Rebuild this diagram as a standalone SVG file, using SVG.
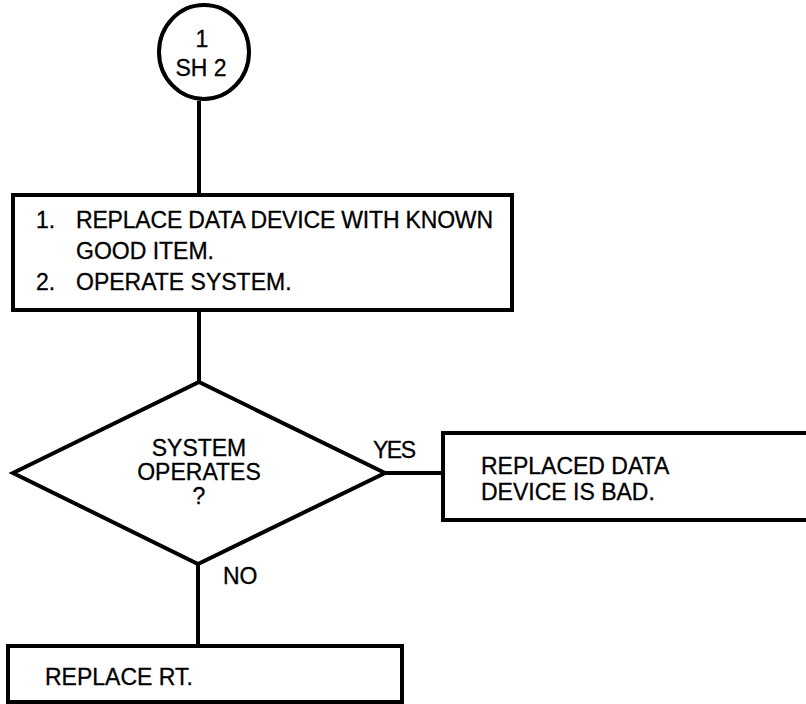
<svg xmlns="http://www.w3.org/2000/svg" width="806" height="704" viewBox="0 0 806 704">
<style>
.s{fill:none;stroke:#000;stroke-width:4;stroke-linejoin:miter}
.t{font-family:"Liberation Sans",Arial,sans-serif;font-size:23px;fill:#000;stroke:#000;stroke-width:0.3}
.m{text-anchor:middle}
</style>
<rect width="806" height="704" fill="#fff"/>
<g id="connectors">
<line class="s" x1="199" y1="101" x2="199" y2="195"/>
<line class="s" x1="199" y1="310" x2="199" y2="382"/>
<line class="s" x1="385" y1="473" x2="443" y2="473"/>
<line class="s" x1="198" y1="564" x2="198" y2="646"/>
<text class="t" x="373" y="458" textLength="43">YES</text>
<text class="t" x="223" y="584">NO</text>
</g>
<g id="start">
<ellipse class="s" cx="204" cy="52" rx="45" ry="47"/>
<text class="t m" x="202" y="47">1</text>
<text class="t m" x="201" y="76">SH 2</text>
</g>
<g id="step1">
<rect class="s" x="13" y="195" width="499" height="115"/>
<text class="t" x="36" y="228">1.</text>
<text class="t" x="76" y="228" textLength="417">REPLACE DATA DEVICE WITH KNOWN</text>
<text class="t" x="76" y="259">GOOD ITEM.</text>
<text class="t" x="36" y="290">2.</text>
<text class="t" x="76" y="290">OPERATE SYSTEM.</text>
</g>
<g id="decision">
<polygon class="s" points="199,382 385,473 198,564 13,473"/>
<text class="t m" x="199" y="456">SYSTEM</text>
<text class="t m" x="199" y="480">OPERATES</text>
<text class="t m" x="199" y="504">?</text>
</g>
<g id="yes-result">
<rect class="s" x="443" y="433" width="370" height="87"/>
<text class="t" x="481" y="474">REPLACED DATA</text>
<text class="t" x="481" y="500">DEVICE IS BAD.</text>
</g>
<g id="no-result">
<rect class="s" x="8" y="646" width="394" height="56"/>
<text class="t" x="45" y="685">REPLACE RT.</text>
</g>
</svg>
